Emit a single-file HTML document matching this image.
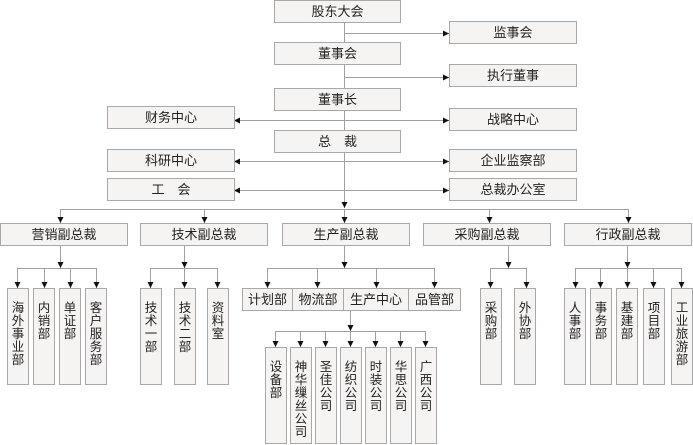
<!DOCTYPE html>
<html><head><meta charset="utf-8"><style>
html,body{margin:0;padding:0;background:#fff;}
svg{display:block;}
text{font-family:"Liberation Sans","Noto Sans CJK SC","WenQuanYi Zen Hei",sans-serif;font-size:13px;fill:#222;}
.v text{font-size:12.5px;}
rect{fill:#f5f4f2;stroke:#a8a8a8;stroke-width:1;}
line{stroke:#a0a0a0;stroke-width:1;}
</style></head><body>
<svg width="693" height="445" viewBox="0 0 693 445" xmlns="http://www.w3.org/2000/svg">
<defs>
<marker id="a" viewBox="0 0 6 6" refX="6" refY="3" markerWidth="6" markerHeight="6" orient="auto" markerUnits="userSpaceOnUse"><path d="M0,0L6,3L0,6z" fill="#111"/></marker>
</defs>
<!-- central spine -->
<line x1="344.5" y1="23" x2="344.5" y2="208" marker-end="url(#a)"/>
<!-- right branches -->
<line x1="344.5" y1="33.5" x2="449" y2="33.5" marker-end="url(#a)"/>
<line x1="344.5" y1="77.5" x2="449" y2="77.5" marker-end="url(#a)"/>
<line x1="344.5" y1="120.5" x2="449" y2="120.5" marker-end="url(#a)"/>
<line x1="344.5" y1="161.5" x2="449" y2="161.5" marker-end="url(#a)"/>
<line x1="344.5" y1="190.5" x2="449" y2="190.5" marker-end="url(#a)"/>
<!-- left branches -->
<line x1="344.5" y1="120.5" x2="234" y2="120.5" marker-end="url(#a)"/>
<line x1="344.5" y1="161.5" x2="234" y2="161.5" marker-end="url(#a)"/>
<line x1="344.5" y1="190.5" x2="234" y2="190.5" marker-end="url(#a)"/>
<!-- top boxes -->
<rect x="274.5" y="0.5" width="126" height="22"/><text x="337.5" y="16" text-anchor="middle">股东大会</text>
<rect x="274.5" y="42.5" width="126" height="22"/><text x="337.5" y="58" text-anchor="middle">董事会</text>
<rect x="274.5" y="88.5" width="126" height="22"/><text x="337.5" y="104" text-anchor="middle">董事长</text>
<rect x="274.5" y="130.5" width="126" height="22"/><text x="337.5" y="146" text-anchor="middle">总　裁</text>
<rect x="449.5" y="21.5" width="127" height="22"/><text x="513" y="37" text-anchor="middle">监事会</text>
<rect x="449.5" y="64.5" width="127" height="22"/><text x="513" y="80" text-anchor="middle">执行董事</text>
<rect x="449.5" y="108.5" width="127" height="22"/><text x="513" y="124" text-anchor="middle">战略中心</text>
<rect x="449.5" y="149.5" width="127" height="22"/><text x="513" y="165" text-anchor="middle">企业监察部</text>
<rect x="449.5" y="178.5" width="127" height="22"/><text x="513" y="194" text-anchor="middle">总裁办公室</text>
<rect x="107.5" y="106.5" width="127" height="22"/><text x="171" y="122" text-anchor="middle">财务中心</text>
<rect x="107.5" y="149.5" width="127" height="22"/><text x="171" y="165" text-anchor="middle">科研中心</text>
<rect x="107.5" y="178.5" width="127" height="22"/><text x="171" y="194" text-anchor="middle">工　会</text>
<!-- VP bus -->
<line x1="60.5" y1="209.5" x2="628.5" y2="209.5"/>
<line x1="60.5" y1="209" x2="60.5" y2="223" marker-end="url(#a)"/>
<line x1="204.5" y1="209" x2="204.5" y2="223" marker-end="url(#a)"/>
<line x1="344.5" y1="209" x2="344.5" y2="223" marker-end="url(#a)"/>
<line x1="489.5" y1="209" x2="489.5" y2="223" marker-end="url(#a)"/>
<line x1="628.5" y1="209" x2="628.5" y2="223" marker-end="url(#a)"/>
<rect x="0.5" y="223.5" width="127" height="22"/><text x="64" y="239" text-anchor="middle">营销副总裁</text>
<rect x="140.5" y="223.5" width="127" height="22"/><text x="204" y="239" text-anchor="middle">技术副总裁</text>
<rect x="282.5" y="223.5" width="127" height="22"/><text x="346" y="239" text-anchor="middle">生产副总裁</text>
<rect x="423.5" y="223.5" width="127" height="22"/><text x="487" y="239" text-anchor="middle">采购副总裁</text>
<rect x="564.5" y="223.5" width="127" height="22"/><text x="628" y="239" text-anchor="middle">行政副总裁</text>
<!-- marketing -->
<line x1="60.5" y1="246" x2="60.5" y2="268" marker-end="url(#a)"/>
<line x1="17.5" y1="268.5" x2="96.5" y2="268.5"/>
<line x1="17.5" y1="268" x2="17.5" y2="288" marker-end="url(#a)"/>
<line x1="44.5" y1="268" x2="44.5" y2="288" marker-end="url(#a)"/>
<line x1="70.5" y1="268" x2="70.5" y2="288" marker-end="url(#a)"/>
<line x1="96.5" y1="268" x2="96.5" y2="288" marker-end="url(#a)"/>
<!-- tech -->
<line x1="184.5" y1="246" x2="184.5" y2="268" marker-end="url(#a)"/>
<line x1="150.5" y1="268.5" x2="217.5" y2="268.5"/>
<line x1="150.5" y1="268" x2="150.5" y2="288" marker-end="url(#a)"/>
<line x1="184.5" y1="268" x2="184.5" y2="288" marker-end="url(#a)"/>
<line x1="217.5" y1="268" x2="217.5" y2="288" marker-end="url(#a)"/>
<!-- production -->
<line x1="344.5" y1="246" x2="344.5" y2="268" marker-end="url(#a)"/>
<line x1="267.5" y1="268.5" x2="434.5" y2="268.5"/>
<line x1="267.5" y1="268" x2="267.5" y2="288" marker-end="url(#a)"/>
<line x1="317.5" y1="268" x2="317.5" y2="288" marker-end="url(#a)"/>
<line x1="376.5" y1="268" x2="376.5" y2="288" marker-end="url(#a)"/>
<line x1="434.5" y1="268" x2="434.5" y2="288" marker-end="url(#a)"/>
<rect x="242.5" y="288.5" width="50" height="22"/><text x="267.5" y="304" text-anchor="middle">计划部</text>
<rect x="292.5" y="288.5" width="51" height="22"/><text x="318" y="304" text-anchor="middle">物流部</text>
<rect x="343.5" y="288.5" width="65" height="22"/><text x="376" y="304" text-anchor="middle">生产中心</text>
<rect x="408.5" y="288.5" width="52" height="22"/><text x="434.5" y="304" text-anchor="middle">品管部</text>
<line x1="350.5" y1="311" x2="350.5" y2="331" marker-end="url(#a)"/>
<line x1="275.5" y1="331.5" x2="425.5" y2="331.5"/>
<line x1="275.5" y1="331" x2="275.5" y2="347" marker-end="url(#a)"/>
<line x1="300.5" y1="331" x2="300.5" y2="347" marker-end="url(#a)"/>
<line x1="325.5" y1="331" x2="325.5" y2="347" marker-end="url(#a)"/>
<line x1="350.5" y1="331" x2="350.5" y2="347" marker-end="url(#a)"/>
<line x1="375.5" y1="331" x2="375.5" y2="347" marker-end="url(#a)"/>
<line x1="400.5" y1="331" x2="400.5" y2="347" marker-end="url(#a)"/>
<line x1="425.5" y1="331" x2="425.5" y2="347" marker-end="url(#a)"/>
<!-- purchasing -->
<line x1="508.5" y1="246" x2="508.5" y2="268" marker-end="url(#a)"/>
<line x1="490.5" y1="268.5" x2="526.5" y2="268.5"/>
<line x1="490.5" y1="268" x2="490.5" y2="288" marker-end="url(#a)"/>
<line x1="526.5" y1="268" x2="526.5" y2="288" marker-end="url(#a)"/>
<!-- admin -->
<line x1="627.5" y1="246" x2="627.5" y2="268" marker-end="url(#a)"/>
<line x1="575.5" y1="268.5" x2="681.5" y2="268.5"/>
<line x1="575.5" y1="268" x2="575.5" y2="288" marker-end="url(#a)"/>
<line x1="600.5" y1="268" x2="600.5" y2="288" marker-end="url(#a)"/>
<line x1="627.5" y1="268" x2="627.5" y2="288" marker-end="url(#a)"/>
<line x1="653.5" y1="268" x2="653.5" y2="288" marker-end="url(#a)"/>
<line x1="681.5" y1="268" x2="681.5" y2="288" marker-end="url(#a)"/>
<!-- vertical boxes -->
<g class="v">
<rect x="7.5" y="288.5" width="21" height="96"/>
<text x="18" y="312" text-anchor="middle">海</text><text x="18" y="325" text-anchor="middle">外</text><text x="18" y="338" text-anchor="middle">事</text><text x="18" y="351" text-anchor="middle">业</text><text x="18" y="364" text-anchor="middle">部</text>
<rect x="33.5" y="288.5" width="21" height="96"/>
<text x="44" y="312" text-anchor="middle">内</text><text x="44" y="325" text-anchor="middle">销</text><text x="44" y="338" text-anchor="middle">部</text>
<rect x="59.5" y="288.5" width="21" height="96"/>
<text x="70" y="312" text-anchor="middle">单</text><text x="70" y="325" text-anchor="middle">证</text><text x="70" y="338" text-anchor="middle">部</text>
<rect x="85.5" y="288.5" width="21" height="96"/>
<text x="96" y="312" text-anchor="middle">客</text><text x="96" y="325" text-anchor="middle">户</text><text x="96" y="338" text-anchor="middle">服</text><text x="96" y="351" text-anchor="middle">务</text><text x="96" y="364" text-anchor="middle">部</text>
<rect x="140.5" y="288.5" width="21" height="96"/>
<text x="151" y="312" text-anchor="middle">技</text><text x="151" y="325" text-anchor="middle">术</text><text x="151" y="338" text-anchor="middle">一</text><text x="151" y="351" text-anchor="middle">部</text>
<rect x="174.5" y="288.5" width="21" height="96"/>
<text x="185" y="312" text-anchor="middle">技</text><text x="185" y="325" text-anchor="middle">术</text><text x="185" y="338" text-anchor="middle">二</text><text x="185" y="351" text-anchor="middle">部</text>
<rect x="207.5" y="288.5" width="21" height="96"/>
<text x="218" y="312" text-anchor="middle">资</text><text x="218" y="325" text-anchor="middle">料</text><text x="218" y="338" text-anchor="middle">室</text>
<rect x="480.5" y="288.5" width="21" height="96"/>
<text x="491" y="312" text-anchor="middle">采</text><text x="491" y="325" text-anchor="middle">购</text><text x="491" y="338" text-anchor="middle">部</text>
<rect x="514.5" y="288.5" width="21" height="96"/>
<text x="525" y="312" text-anchor="middle">外</text><text x="525" y="325" text-anchor="middle">协</text><text x="525" y="338" text-anchor="middle">部</text>
<rect x="564.5" y="288.5" width="21" height="96"/>
<text x="575" y="312" text-anchor="middle">人</text><text x="575" y="325" text-anchor="middle">事</text><text x="575" y="338" text-anchor="middle">部</text>
<rect x="590.5" y="288.5" width="21" height="96"/>
<text x="601" y="312" text-anchor="middle">事</text><text x="601" y="325" text-anchor="middle">务</text><text x="601" y="338" text-anchor="middle">部</text>
<rect x="616.5" y="288.5" width="21" height="96"/>
<text x="627" y="312" text-anchor="middle">基</text><text x="627" y="325" text-anchor="middle">建</text><text x="627" y="338" text-anchor="middle">部</text>
<rect x="643.5" y="288.5" width="21" height="96"/>
<text x="654" y="312" text-anchor="middle">项</text><text x="654" y="325" text-anchor="middle">目</text><text x="654" y="338" text-anchor="middle">部</text>
<rect x="671.5" y="288.5" width="21" height="96"/>
<text x="682" y="312" text-anchor="middle">工</text><text x="682" y="325" text-anchor="middle">业</text><text x="682" y="338" text-anchor="middle">旅</text><text x="682" y="351" text-anchor="middle">游</text><text x="682" y="364" text-anchor="middle">部</text>
<!-- production sub -->
<rect x="265.5" y="347.5" width="21" height="96"/>
<text x="276" y="371" text-anchor="middle">设</text><text x="276" y="384" text-anchor="middle">备</text><text x="276" y="397" text-anchor="middle">部</text>
<rect x="290.5" y="347.5" width="21" height="96"/>
<text x="301" y="371" text-anchor="middle">神</text><text x="301" y="384" text-anchor="middle">华</text><text x="301" y="397" text-anchor="middle">缫</text><text x="301" y="410" text-anchor="middle">丝</text><text x="301" y="423" text-anchor="middle">公</text><text x="301" y="436" text-anchor="middle">司</text>
<rect x="315.5" y="347.5" width="21" height="96"/>
<text x="326" y="371" text-anchor="middle">圣</text><text x="326" y="384" text-anchor="middle">佳</text><text x="326" y="397" text-anchor="middle">公</text><text x="326" y="410" text-anchor="middle">司</text>
<rect x="340.5" y="347.5" width="21" height="96"/>
<text x="351" y="371" text-anchor="middle">纺</text><text x="351" y="384" text-anchor="middle">织</text><text x="351" y="397" text-anchor="middle">公</text><text x="351" y="410" text-anchor="middle">司</text>
<rect x="365.5" y="347.5" width="21" height="96"/>
<text x="376" y="371" text-anchor="middle">时</text><text x="376" y="384" text-anchor="middle">装</text><text x="376" y="397" text-anchor="middle">公</text><text x="376" y="410" text-anchor="middle">司</text>
<rect x="390.5" y="347.5" width="21" height="96"/>
<text x="401" y="371" text-anchor="middle">华</text><text x="401" y="384" text-anchor="middle">思</text><text x="401" y="397" text-anchor="middle">公</text><text x="401" y="410" text-anchor="middle">司</text>
<rect x="415.5" y="347.5" width="21" height="96"/>
<text x="426" y="371" text-anchor="middle">广</text><text x="426" y="384" text-anchor="middle">西</text><text x="426" y="397" text-anchor="middle">公</text><text x="426" y="410" text-anchor="middle">司</text>
</g>
</svg>
</body></html>
